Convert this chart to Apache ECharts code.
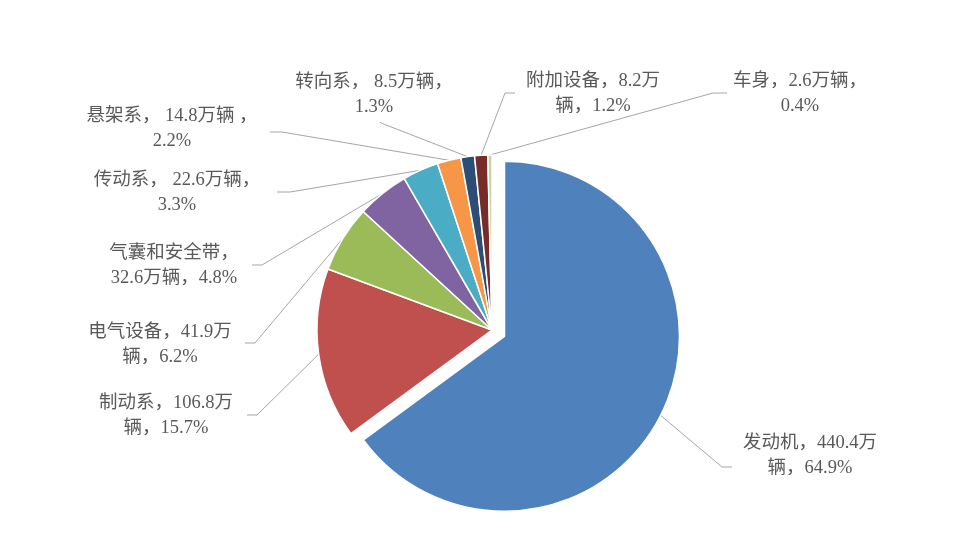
<!DOCTYPE html>
<html>
<head>
<meta charset="utf-8">
<script src="https://cdn.jsdelivr.net/npm/echarts@6/dist/echarts.min.js"></script>
<style>
html,body{margin:0;padding:0;background:#fff;}
#chart{width:972px;height:537px;}
</style>
</head>
<body>
<div id="chart"></div>
<script>
// ---- data ----
const categories = ['发动机','制动系','电气设备','气囊和安全带','传动系','悬架系','转向系','附加设备','车身'];
const values = [440.4, 106.8, 41.9, 32.6, 22.6, 14.8, 8.5, 8.2, 2.6];
const colors = ['#4F81BD','#C0504D','#9BBB59','#8064A2','#4BACC6','#F79646','#2C4D75','#772C2A','#C3D69B'];
// label text templates ({n}=name, {v}=value, {p}=percent)
const labelTemplates = [
  '{n}，{v}万\n辆，{p}%',
  '{n}，{v}万\n辆，{p}%',
  '{n}，{v}万\n辆，{p}%',
  '{n}，\n{v}万辆，{p}%',
  '{n}， {v}万辆，\n{p}%',
  '{n}， {v}万辆 ，\n{p}%',
  '{n}， {v}万辆，\n{p}%',
  '{n}，{v}万\n辆，{p}%',
  '{n}，{v}万辆，\n{p}%'
];

// ---- layout (positions, not data) ----
const CX = 492, CY = 330, R = 175, OFFSET = 14;
const EXPLODED = 0; // index of the pulled-out slice
const labelPos = [[810,456],[166,416],[160,345],[174,266],[177,193],[172,129],[374,95],[593,94],[800,94]];
const lineBend = [[722,467],[257,415],[255,343],[262,265],[290,192],[282,132],[381,123],[505,93],[713,93]];
const lineEnd  = [[732,467],[247,415],[245,343],[252,265],[277,192],[270,132],[380,122],[515,93],[727,93]];

const total = values.reduce((a,b)=>a+b,0);
const anchors = [];
let cum = 0, exDx = 0, exDy = 0;
values.forEach((v,i)=>{
  const a = (cum + v/2)/total*2*Math.PI;
  cum += v;
  const dx = Math.sin(a), dy = -Math.cos(a);
  const off = i === EXPLODED ? OFFSET : 0;
  if (i === EXPLODED) { exDx = dx*OFFSET; exDy = dy*OFFSET; }
  anchors.push([CX + dx*(R+off), CY + dy*(R+off)]);
});

const baseSeries = {
  type: 'pie',
  radius: [0, R],
  startAngle: 90,
  clockwise: true,
  avoidLabelOverlap: false,
  percentPrecision: 1,
  emphasis: { disabled: true },
  silent: true
};

const chart = echarts.init(document.getElementById('chart'));
chart.setOption({
  animation: false,
  backgroundColor: '#fff',
  series: [
    Object.assign({}, baseSeries, {
      center: [CX, CY],
      itemStyle: { borderColor: '#fff', borderWidth: 1.5 },
      label: {
        show: true,
        position: 'outer',
        color: '#595959',
        fontSize: 18.5,
        lineHeight: 25,
        fontFamily: "'Liberation Serif','Noto Sans CJK SC',serif",
        align: 'center',
        formatter: function (p) {
          return labelTemplates[p.dataIndex]
            .replace('{n}', p.name)
            .replace('{v}', p.value)
            .replace('{p}', p.percent.toFixed(1));
        }
      },
      labelLine: { show: true, lineStyle: { color: '#A6A6A6', width: 1 } },
      labelLayout: function (params) {
        const i = params.dataIndex;
        return {
          x: labelPos[i][0],
          y: labelPos[i][1],
          align: 'center',
          verticalAlign: 'middle',
          labelLinePoints: [anchors[i], lineBend[i], lineEnd[i]]
        };
      },
      data: categories.map((n,i)=>({
        name: n,
        value: values[i],
        itemStyle: i === EXPLODED
          ? { color: 'rgba(0,0,0,0)', borderWidth: 0 }
          : { color: colors[i] }
      }))
    }),
    Object.assign({}, baseSeries, {
      center: [CX + exDx, CY + exDy],
      itemStyle: { borderColor: '#fff', borderWidth: 1.5 },
      label: { show: false },
      labelLine: { show: false },
      data: categories.map((n,i)=>({
        name: n,
        value: values[i],
        itemStyle: i === EXPLODED
          ? { color: colors[i] }
          : { color: 'rgba(0,0,0,0)', borderWidth: 0 }
      }))
    })
  ]
});
</script>
</body>
</html>
